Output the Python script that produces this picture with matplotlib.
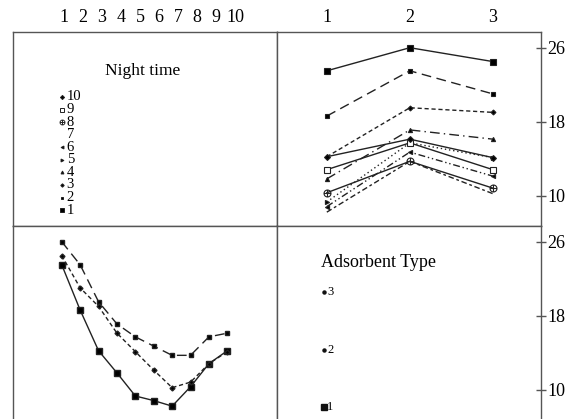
import matplotlib
matplotlib.use("Agg")
import matplotlib.pyplot as plt
from matplotlib.path import Path

plt.rcParams['font.family'] = ['Liberation Serif', 'DejaVu Serif']

night = [1, 2, 3, 4, 5, 6, 7, 8, 9, 10]
adsorbent = [1, 2, 3]

# mean response, one list per adsorbent type (index = night time)
type1 = [23.5, 18.6, 14.2, 11.8, 9.3, 8.8, 8.2, 10.3, 12.8, 14.2]
type2 = [26.0, 23.5, 19.5, 17.1, 15.7, 14.7, 13.7, 13.7, 15.7, 16.1]
type3 = [24.5, 21.0, 19.0, 16.1, 14.1, 12.1, 10.2, 10.8, 12.8, 14.1]
y_ticks = [10, 18, 26]

# marker path for night 8 (circle with a cross)
oplus = Path.make_compound_path(
    Path.unit_circle(),
    Path([(-1, 0), (1, 0), (0, -1), (0, 1)],
         [Path.MOVETO, Path.LINETO, Path.MOVETO, Path.LINETO]))

night_styles = [
    dict(ls='-', marker='s', ms=4, mfc='k'),
    dict(ls=(0, (7, 4)), marker='s', ms=2.5, mfc='k'),
    dict(ls=(0, (3, 2)), marker='D', ms=2.5, mfc='k'),
    dict(ls=(0, (7, 3, 1, 3)), marker='^', ms=3, mfc='k'),
    dict(ls=(0, (1, 2)), marker='>', ms=3, mfc='k'),
    dict(ls=(0, (5, 2, 1, 2, 1, 2)), marker='<', ms=3, mfc='k'),
    dict(ls=(0, (4, 2, 2, 2)), marker='None', ms=3, mfc='k'),
    dict(ls='-', marker=oplus, ms=5, mfc='none'),
    dict(ls='-', marker='s', ms=4, mfc='white'),
    dict(ls='-', marker='D', ms=3, mfc='k'),
]
type_styles = [
    dict(ls='-', marker='s', ms=4.5, mfc='k'),
    dict(ls=(0, (7, 4)), marker='s', ms=2.5, mfc='k'),
    dict(ls=(0, (3, 2)), marker='D', ms=2.5, mfc='k'),
]
types = [type1, type2, type3]

fig = plt.figure(figsize=(5.78, 4.19), dpi=100)
W, H = 578, 419


def add_panel(x0, y0, x1, y1):
    ax = fig.add_axes([x0 / W, 1 - y1 / H, (x1 - x0) / W, (y1 - y0) / H])
    for s in ax.spines.values():
        s.set_color('#555555')
        s.set_linewidth(1)
    ax.set_xticks([])
    ax.set_yticks([])
    return ax


ax_tl = add_panel(13, 32, 277, 226)
ax_tr = add_panel(277, 32, 541, 226)
ax_bl = add_panel(13, 226, 277, 420)
ax_br = add_panel(277, 226, 541, 420)

ylim = (6.7, 27.7)

# top right: night-time lines across adsorbent types
for i in range(len(night)):
    vals = [t[i] for t in types]
    st = night_styles[i]
    ax_tr.plot(adsorbent, vals, color='#222222', lw=1, ls=st['ls'],
               marker=st['marker'], ms=st['ms'], mfc=st['mfc'], mec='#222222',
               mew=0.8)
ax_tr.set_xlim(0.4, 3.58)
ax_tr.set_ylim(*ylim)

# bottom left: adsorbent lines across night time
for t, st in zip(types, type_styles):
    ax_bl.plot(night, t, color='#222222', lw=1, ls=st['ls'],
               marker=st['marker'], ms=st['ms'], mfc=st['mfc'], mec='#222222')
ax_bl.set_xlim(-1.65, 12.7)
ax_bl.set_ylim(*ylim)

# top axis labels
ax_tl.set_xlim(-1.68, 12.2)
ax_tl.xaxis.tick_top()
ax_tl.set_xticks(night)
ax_tl.tick_params(axis='x', length=0, pad=4, labelsize=13)
ax_tr.xaxis.tick_top()
ax_tr.set_xticks(adsorbent)
ax_tr.tick_params(axis='x', length=0, pad=4, labelsize=13)

# right axis labels
for ax in (ax_tr, ax_br):
    ax.set_ylim(*ylim)
    ax.yaxis.tick_right()
    ax.set_yticks(y_ticks)
    ax.tick_params(axis='y', direction='inout', length=7, width=1,
                   color='#555555', pad=1, labelsize=13)

# night time legend panel
ax_tl.text(0.49, 0.80, 'Night time', transform=ax_tl.transAxes,
           ha='center', va='center', fontsize=12.5)
for i in range(len(night)):
    yy = 0.082 + i * 0.0648
    st = night_styles[i]
    ax_tl.plot([0.186], [yy], transform=ax_tl.transAxes, ls='None',
               marker=st['marker'], ms=st['ms'] * 0.7, mfc=st['mfc'],
               mec='#222222', mew=0.7, color='#222222')
    ax_tl.text(0.203, yy, str(night[i]), transform=ax_tl.transAxes,
               ha='left', va='center', fontsize=10.5)

# adsorbent type legend panel
ax_br.text(0.167, 0.814, 'Adsorbent Type', transform=ax_br.transAxes,
           ha='left', va='center', fontsize=13)
for yy, lab, ms in zip([0.067, 0.361, 0.66], ['1', '2', '3'], [4, 2.2, 2.2]):
    ax_br.plot([0.178], [yy], transform=ax_br.transAxes, ls='None',
               marker='s' if lab == '1' else 'o', ms=ms, color='#111111')
    ax_br.text(0.19, yy, lab, transform=ax_br.transAxes,
               ha='left', va='center', fontsize=9)

fig.savefig('out.png', dpi=100)
